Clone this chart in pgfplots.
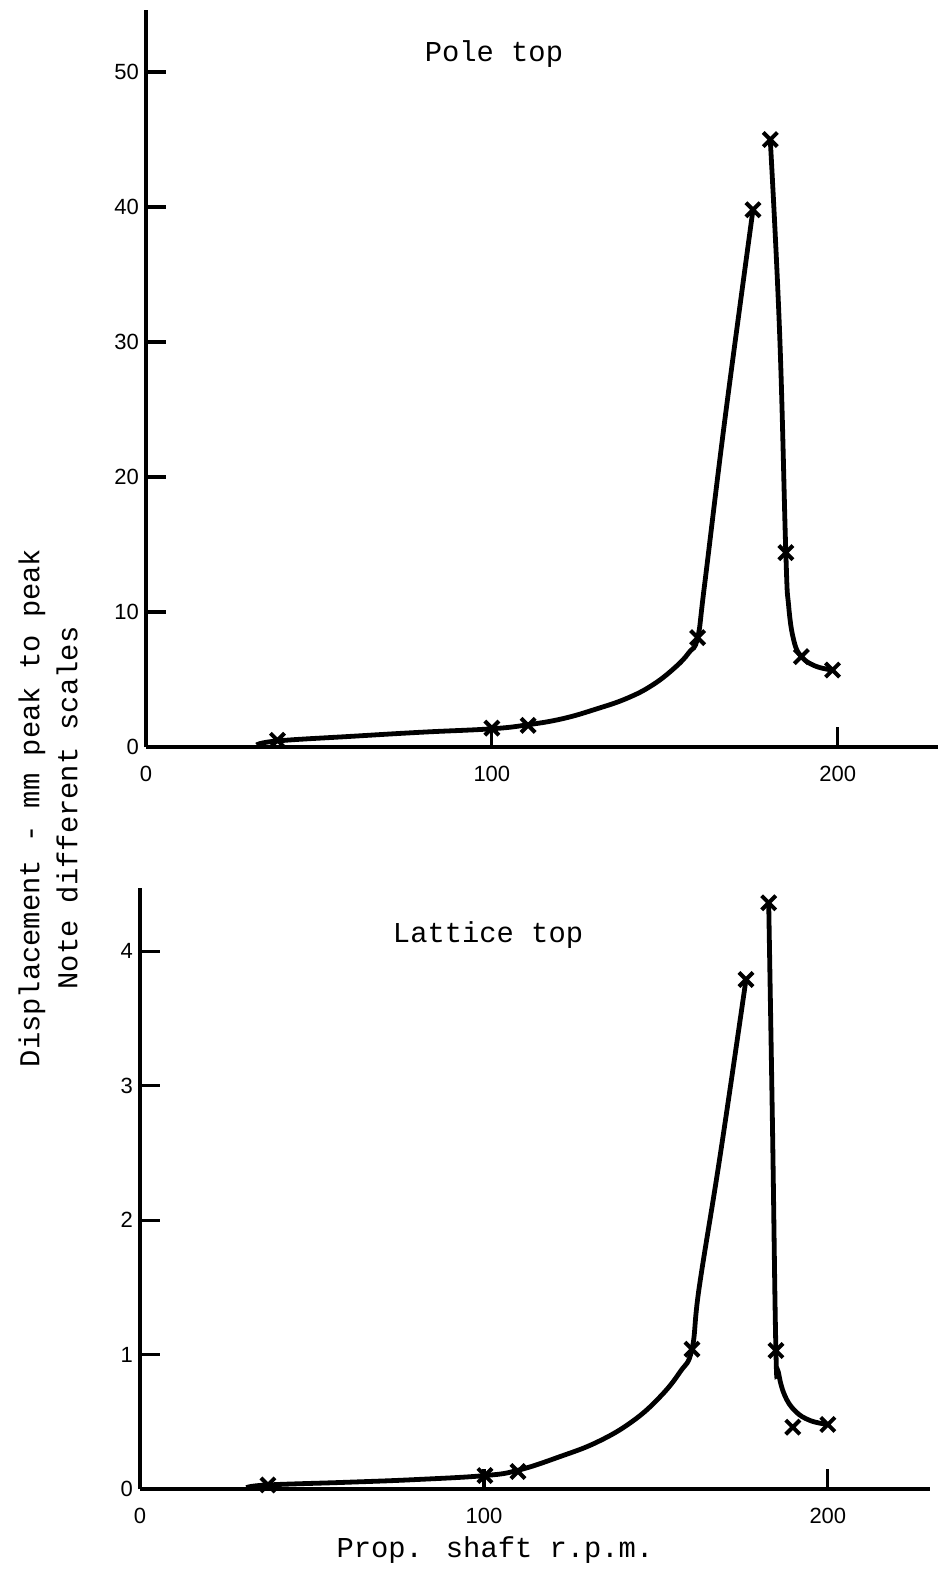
\documentclass[border=0pt]{standalone}
\usepackage{fontspec}
\setmainfont{Liberation Mono}
\setsansfont{Liberation Sans}
\usepackage{pgfplots}
\pgfplotsset{compat=1.18}

\pgfplotsset{
  resp/.style={
    scale only axis,
    axis lines=left,
    axis line style={-, line width=2pt},
    xmin=0,
    ymin=0,
    tick align=inside,
    major tick length=10pt,
    every tick/.style={line width=1.6pt, black},
    tick label style={font=\sffamily\fontsize{11}{13}\selectfont},
    xticklabel style={yshift=-6pt},
    /pgf/number format/assume math mode=true,
    xtick={0,100,200},
    clip=false,
  },
  curve/.style={black, line width=2.4pt, smooth, tension=0.7, no marks},
  pts/.style={only marks, mark=x, mark size=5pt, mark options={line width=2pt, black}},
}

\begin{document}
\begin{tikzpicture}
\useasboundingbox (-73pt,-412pt) rectangle (396pt,373.5pt);

% Pole top
\begin{axis}[resp, at={(0,0)}, anchor=south west,
  width=396pt, height=368.5pt,
  xmax=229, ymax=54.6,
  ytick={0,10,20,30,40,50}]
\addplot[curve] coordinates {(32,0.15) (38,0.45) (60,0.8) (80,1.1) (100,1.35) (110.5,1.65) (120.5,2.1) (130,2.8) (139,3.6) (146.5,4.6) (153,5.9) (157,7.0) (159.5,8.1) (161.5,12) (167.5,24.5) (175.5,39.8)};
\addplot[curve] coordinates {(180.5,45) (183.2,30.7) (185,14.4) (185.8,10.5) (187.3,7.9) (189.5,6.7) (193.5,6.0) (198.5,5.7)};
\addplot[pts] coordinates {(38,0.5) (100,1.4) (110.5,1.6) (159.5,8.1) (175.5,39.8) (180.5,45) (185,14.4) (189.5,6.7) (198.5,5.7)};
\node[font=\fontsize{14.4}{17}\selectfont] at (axis cs:100.6,51.3) {Pole top};
\end{axis}

% Lattice top
\begin{axis}[resp, at={(-3pt,-371pt)}, anchor=south west,
  width=395pt, height=300.5pt,
  xmax=229.7, ymax=4.47,
  ytick={0,1,2,3,4}]
\addplot[curve] coordinates {(31,0.01) (37,0.03) (60,0.05) (80,0.07) (100.3,0.1) (110,0.14) (122,0.24) (133,0.35) (143,0.5) (151,0.68) (157,0.87) (160.5,1.04) (162.6,1.5) (168.8,2.5) (176.2,3.79)};
\addplot[curve] coordinates {(182.8,4.36) (183.9,2.7) (184.9,1.03) (185.6,0.87) (187.4,0.7) (190.5,0.58) (194.8,0.51) (200,0.48)};
\addplot[pts] coordinates {(37.2,0.03) (100.3,0.1) (109.9,0.13) (160.5,1.04) (176.2,3.79) (182.8,4.36) (184.9,1.03) (189.8,0.46) (200,0.48)};
\node[font=\fontsize{14.4}{17}\selectfont] at (axis cs:101.2,4.12) {Lattice top};
\node[font=\fontsize{14.4}{17}\selectfont] at (axis cs:103.2,0) [yshift=-30.5pt] {Prop. shaft r.p.m.};
\end{axis}

\node[rotate=90, align=center, font=\fontsize{14.4}{19}\selectfont] at (-49pt,-30.5pt)
  {Displacement - mm peak to peak\\Note different scales};
\end{tikzpicture}
\end{document}
